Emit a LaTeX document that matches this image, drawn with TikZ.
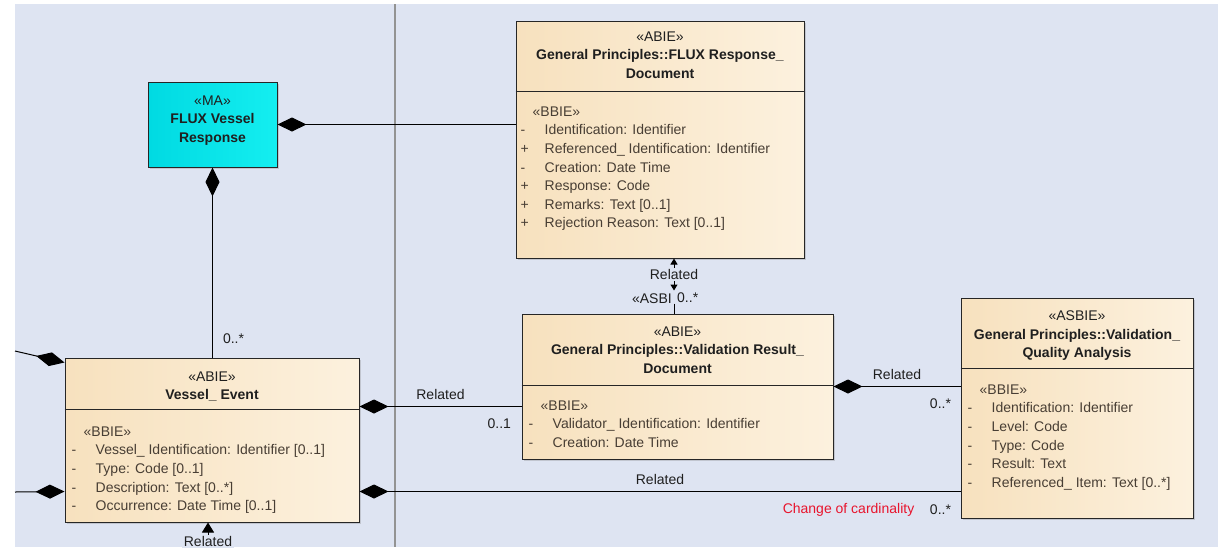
\documentclass[tikz,border=0pt]{standalone}
\usepackage{fontspec}
\setmainfont{Liberation Sans}
\usetikzlibrary{arrows.meta,positioning,shadows}

\definecolor{bgcol}{RGB}{222,228,242}
\definecolor{peachl}{RGB}{247,225,190}
\definecolor{peachr}{RGB}{252,241,222}
\definecolor{maca}{RGB}{0,218,226}
\definecolor{macb}{RGB}{20,238,240}
\definecolor{attc}{RGB}{72,62,52}
\definecolor{cardred}{RGB}{232,20,45}

\newcommand{\bbie}{\hspace*{12pt}«BBIE»}
\newcommand{\bbattr}[2]{\makebox[24pt][l]{#1}#2}

\begin{document}
\begin{tikzpicture}[x=1pt,y=-1pt,
    every node/.style={font=\fontsize{14}{18.6}\selectfont,text=black!88},
    cls/.style={draw=black!85,line width=1pt,left color=peachl,right color=peachr,
      drop shadow={shadow xshift=2pt,shadow yshift=-2pt,opacity=0.3}},
    ma/.style={draw=black!85,line width=1pt,left color=maca,right color=macb,align=center,
      text depth=11pt,drop shadow={shadow xshift=2pt,shadow yshift=-2pt,opacity=0.3}},
    hdr/.style={align=center,inner sep=0pt},
    body/.style={align=left,inner sep=0pt,anchor=north west,text=attc},
    sep/.style={draw=black!85,line width=1pt},
    comp/.style={line width=1pt,{Diamond[length=29pt,width=14pt]}-},
    rel/.style={line width=1pt},
    lbl/.style={inner sep=0pt}]
  \useasboundingbox (0,0) rectangle (1218,547);
  \clip (0,0) rectangle (1218,547);
  \fill[white] (0,0) rectangle (1218,547);
  \fill[bgcol] (15,4) rectangle (1218,547);
  \draw[gray!85,line width=1.2pt] (395,4) -- (395,547);

  \node[ma,minimum width=129pt,minimum height=85pt] (ma) at (212.5,124.5)
    {«MA»\\\textbf{FLUX Vessel}\\\textbf{Response}};
  \node[cls,minimum width=288pt,minimum height=237pt] (resp) at (660,139.5) {};
  \node[cls,minimum width=311pt,minimum height=145pt] (valres) at (677.5,386.5) {};
  \node[cls,minimum width=294pt,minimum height=164pt] (event) at (212,440) {};
  \node[cls,minimum width=232pt,minimum height=220pt] (vqa) at (1077,408) {};

  \draw[sep] ([yshift=-71pt]resp.north west) -- ([yshift=-71pt]resp.north east);
  \draw[sep] ([yshift=-72pt]valres.north west) -- ([yshift=-72pt]valres.north east);
  \draw[sep] ([yshift=-52pt]event.north west) -- ([yshift=-52pt]event.north east);
  \draw[sep] ([yshift=-71pt]vqa.north west) -- ([yshift=-71pt]vqa.north east);

  \node[hdr,below=11pt of resp.north] (resphead)
    {«ABIE»\\\textbf{General Principles::FLUX Response\_}\\\textbf{Document}};
  \node[hdr,below=13pt of valres.north] (valreshead)
    {«ABIE»\\\textbf{General Principles::Validation Result\_}\\\textbf{Document}};
  \node[hdr,below=14pt of event.north] (eventhead)
    {«ABIE»\\\textbf{Vessel\_ Event}};
  \node[hdr,below=13pt of vqa.north] (vqahead)
    {«ASBIE»\\\textbf{General Principles::Validation\_}\\\textbf{Quality Analysis}};

  \node[body] (respbody) at ([xshift=5pt,yshift=-86pt]resp.north west)
    {\bbie\\
     \bbattr{-}{Identification: Identifier}\\
     \bbattr{+}{Referenced\_ Identification: Identifier}\\
     \bbattr{-}{Creation: Date Time}\\
     \bbattr{+}{Response: Code}\\
     \bbattr{+}{Remarks: Text [0..1]}\\
     \bbattr{+}{Rejection Reason: Text [0..1]}};
  \node[body] (valresbody) at ([xshift=7pt,yshift=-87pt]valres.north west)
    {\bbie\\
     \bbattr{-}{Validator\_ Identification: Identifier}\\
     \bbattr{-}{Creation: Date Time}};
  \node[body] (eventbody) at ([xshift=7pt,yshift=-69pt]event.north west)
    {\bbie\\
     \bbattr{-}{Vessel\_ Identification: Identifier [0..1]}\\
     \bbattr{-}{Type: Code [0..1]}\\
     \bbattr{-}{Description: Text [0..*]}\\
     \bbattr{-}{Occurrence: Date Time [0..1]}};
  \node[body] (vqabody) at ([xshift=7pt,yshift=-87pt]vqa.north west)
    {\bbie\\
     \bbattr{-}{Identification: Identifier}\\
     \bbattr{-}{Level: Code}\\
     \bbattr{-}{Type: Code}\\
     \bbattr{-}{Result: Text}\\
     \bbattr{-}{Referenced\_ Item: Text [0..*]}};

  \coordinate (ev1) at ([yshift=-49pt]event.north east);
  \coordinate (ev2) at ([yshift=-134pt]event.north east);
  \coordinate (ev3) at ([yshift=-5pt]event.north west);
  \coordinate (ev4) at ([yshift=-134pt]event.north west);
  \coordinate (lt) at (15,351);
  \coordinate (lb) at (15,492);
  \coordinate (bt) at (208,560);
  \coordinate (rtop) at ([xshift=14pt]resp.south);
  \coordinate (rmid) at ([xshift=14pt,yshift=-32pt]resp.south);

  \draw[comp] (ma.east) -- (ma.east -| resp.west);
  \draw[comp] (ma.south) -- (ma.south |- event.north)
    node[pos=0.9,right=10pt,lbl] (c1) {0..*};

  \draw[rel,{Triangle[length=6pt,width=7pt]}-{Triangle[length=6pt,width=7pt]}] (rtop) -- (rmid)
    node[midway,fill=bgcol,lbl,inner sep=1.5pt] (r1) {Related};
  \node[lbl,anchor=east] (asbi) at ([xshift=-2pt,yshift=-8pt]rmid) {«ASBI};
  \node[lbl,anchor=west] (c2) at ([xshift=3pt,yshift=-7pt]rmid) {0..*};
  \draw[rel] (rmid |- asbi.south) -- (rmid |- valres.north);

  \draw[comp] (ev1) -- (ev1 -| valres.west)
    node[midway,above=6pt,lbl] (r2) {Related}
    node[pos=1,anchor=north east,xshift=-10pt,yshift=-12pt,lbl] (c3) {0..1};
  \draw[comp] (valres.east) -- (valres.east -| vqa.west)
    node[midway,above=6pt,lbl] (r3) {Related}
    node[pos=1,anchor=north east,xshift=-9pt,yshift=-12pt,lbl] (c4) {0..*};
  \draw[comp] (ev2) -- (ev2 -| vqa.west)
    node[midway,above=6pt,lbl] (r4) {Related}
    node[pos=1,anchor=north east,xshift=-9pt,yshift=-13pt,lbl] (c5) {0..*};
  \node[lbl,left=15pt of c5,text=cardred] (chg) {Change of cardinality};

  \draw[comp] (ev3) -- (lt);
  \draw[comp] (ev4) -- (lb);
  \draw[rel,{Triangle[length=10pt,width=12pt]}-] ([xshift=-4pt]event.south) -- (bt)
    node[pos=0.5,fill=bgcol,lbl,inner sep=1.5pt] (r5) {Related};
\end{tikzpicture}
\end{document}
